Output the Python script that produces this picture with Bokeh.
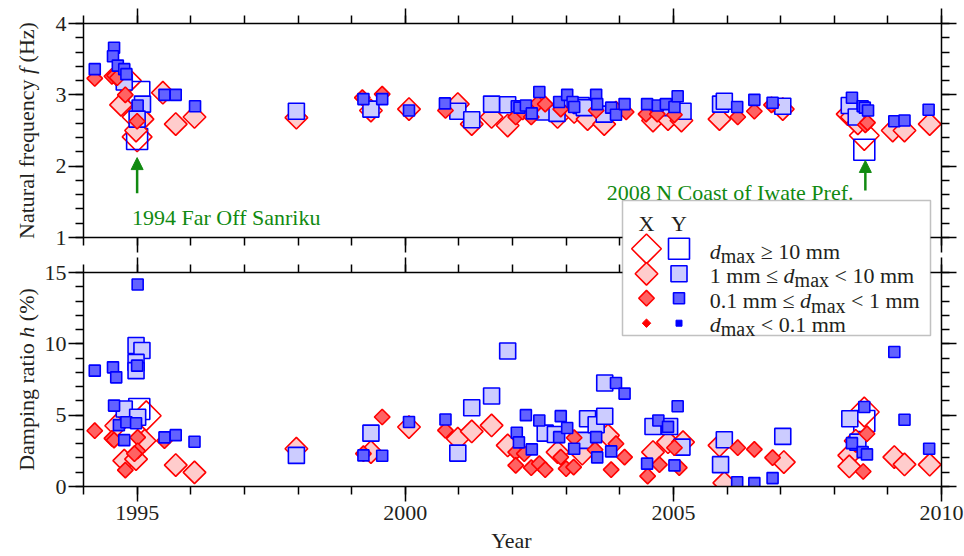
import math
from bokeh.plotting import figure
from bokeh.models import (LinearAxis, Range1d, SingleIntervalTicker, Label,
                          BoxAnnotation, Arrow, NormalHead)
from bokeh.embed import file_html
from bokeh.resources import INLINE

# ---------------- data ----------------
# class codes: 0 = dmax >= 10 mm, 1 = 1-10 mm, 2 = 0.1-1 mm, 3 = < 0.1 mm
# Natural frequency, X direction (diamonds)
fx_year = [1994.21, 1994.53, 1994.58, 1994.63, 1994.80, 1994.78, 1994.70, 1995.10, 1995.00, 1995.00,
           1994.98, 1995.00, 1995.48, 1995.72, 1996.07, 1997.97, 1999.20, 1999.36, 1999.57, 2000.07,
           2000.75, 2000.98, 2001.24, 2001.61, 2001.91, 2002.06, 2002.19, 2002.35, 2002.47, 2002.61,
           2002.84, 2002.90, 2003.15, 2003.40, 2003.56, 2003.71, 2003.93, 2004.12, 2004.49, 2004.62,
           2004.70, 2004.90, 2005.02, 2005.15, 2005.86, 2006.20, 2006.51, 2006.83, 2007.04, 2008.25,
           2008.33, 2008.44, 2008.58, 2008.62, 2008.56, 2009.09, 2009.31, 2009.78]
fx_val = [3.23, 3.26, 3.27, 3.24, 3.20, 3.00, 2.86, 2.66, 2.69, 2.63,
          2.50, 2.41, 3.03, 2.59, 2.69, 2.68, 2.96, 2.78, 3.01, 2.80,
          2.78, 2.87, 2.59, 2.69, 2.57, 2.69, 2.76, 2.69, 2.88, 2.87,
          2.69, 2.80, 2.76, 2.66, 2.78, 2.59, 2.80, 2.76, 2.73, 2.64,
          2.73, 2.66, 2.72, 2.64, 2.66, 2.69, 2.77, 2.86, 2.80, 2.73,
          2.69, 2.60, 2.58, 2.61, 2.43, 2.50, 2.50, 2.59]
fx_cls = [2, 2, 2, 2, 0, 2, 1, 1, 0, 2,
          1, 0, 1, 1, 1, 1, 2, 1, 2, 1,
          2, 1, 1, 1, 1, 2, 2, 2, 2, 2,
          1, 2, 1, 1, 2, 1, 2, 2, 2, 1,
          2, 1, 2, 1, 1, 2, 2, 2, 1, 1,
          1, 1, 2, 2, 0, 1, 1, 1]

# Natural frequency, Y direction (squares)
fy_year = [1994.21, 1994.57, 1994.55, 1994.64, 1994.76, 1994.80, 1994.76, 1995.04, 1995.10, 1995.01,
           1995.00, 1995.00, 1995.51, 1995.72, 1996.08, 1997.97, 1999.22, 1999.36, 1999.57, 2000.07,
           2000.74, 2000.98, 2001.24, 2001.61, 2001.91, 2002.08, 2002.13, 2002.25, 2002.36, 2002.50,
           2002.59, 2002.83, 2002.87, 2003.02, 2003.12, 2003.15, 2003.28, 2003.34, 2003.56, 2003.58,
           2003.71, 2003.84, 2003.93, 2004.09, 2004.51, 2004.71, 2004.86, 2004.90, 2005.02, 2005.08,
           2005.18, 2005.88, 2005.95, 2006.19, 2006.51, 2006.85, 2007.04, 2008.28, 2008.33, 2008.41,
           2008.53, 2008.57, 2008.63, 2008.56, 2009.12, 2009.31, 2009.76]
fy_val = [3.36, 3.66, 3.54, 3.41, 3.36, 3.29, 3.18, 3.04, 2.87, 2.85,
          2.66, 2.38, 3.00, 3.00, 2.84, 2.77, 2.94, 2.80, 2.94, 2.78,
          2.88, 2.77, 2.65, 2.87, 2.86, 2.84, 2.82, 2.85, 2.74, 3.04,
          2.76, 2.74, 2.90, 3.00, 2.90, 2.83, 2.85, 2.82, 3.00, 2.87,
          2.73, 2.82, 2.72, 2.87, 2.87, 2.85, 2.87, 2.82, 2.83, 2.98,
          2.77, 2.87, 2.91, 2.83, 2.93, 2.89, 2.84, 2.85, 2.96, 2.69,
          2.84, 2.82, 2.78, 2.23, 2.63, 2.64, 2.79]
fy_cls = [2, 2, 2, 2, 2, 2, 1, 0, 1, 2,
          1, 0, 2, 2, 2, 1, 2, 1, 2, 2,
          2, 1, 1, 1, 1, 2, 2, 2, 2, 2,
          1, 1, 2, 2, 2, 2, 1, 1, 2, 2,
          1, 2, 2, 2, 2, 2, 2, 1, 2, 2,
          1, 1, 1, 2, 2, 2, 1, 1, 2, 1,
          2, 2, 2, 0, 2, 2, 2]

# Damping ratio, X direction (diamonds)
hx_year = [1994.21, 1994.53, 1994.57, 1994.61, 1995.17, 1995.01, 1995.14, 1995.01, 1994.95, 1994.76,
           1994.98, 1994.78, 1995.51, 1995.72, 1996.07, 1997.97, 1999.22, 1999.36, 1999.57, 2000.07,
           2000.75, 2000.98, 2001.24, 2001.61, 2001.91, 2002.06, 2002.06, 2002.22, 2002.35, 2002.50,
           2002.61, 2002.84, 2002.90, 2003.00, 2003.14, 2003.15, 2003.30, 2003.54, 2003.78, 2003.93,
           2004.09, 2003.84, 2004.62, 2004.74, 2004.52, 2004.90, 2005.02, 2005.18, 2005.11, 2005.86,
           2005.95, 2006.20, 2006.51, 2006.85, 2007.06, 2008.56, 2008.61, 2008.28, 2008.28, 2008.40,
           2008.54, 2009.12, 2009.31, 2009.78]
hx_val = [3.91, 3.37, 3.25, 4.26, 4.96, 3.44, 3.21, 2.50, 2.30, 1.81,
          1.92, 1.15, 3.21, 1.50, 0.99, 2.65, 2.30, 2.41, 4.87, 4.17,
          3.93, 3.35, 3.86, 4.28, 2.88, 2.41, 1.48, 2.30, 1.32, 1.60,
          1.18, 2.41, 2.06, 1.25, 1.36, 3.42, 2.30, 2.58, 3.58, 3.00,
          2.06, 1.18, 2.41, 1.53, 0.73, 3.11, 2.72, 3.11, 1.32, 2.88,
          0.25, 2.72, 2.60, 2.02, 1.71, 5.22, 3.70, 2.18, 1.41, 3.20,
          1.05, 2.06, 1.55, 1.53]
hx_cls = [2, 2, 2, 1, 0, 2, 1, 2, 2, 1,
          1, 2, 2, 1, 1, 1, 2, 1, 2, 1,
          2, 1, 1, 1, 1, 2, 2, 2, 2, 2,
          2, 1, 2, 2, 2, 2, 1, 2, 1, 2,
          2, 2, 1, 2, 2, 1, 2, 1, 2, 1,
          1, 2, 2, 2, 1, 0, 2, 1, 1, 1,
          2, 1, 1, 1]

# Damping ratio, Y direction (squares)
hy_year = [1995.01, 1994.98, 1995.09, 1994.98, 1994.98, 1995.00, 1994.21, 1994.55, 1994.61, 1994.57,
           1994.76, 1995.04, 1995.01, 1994.66, 1994.80, 1994.98, 1994.76, 1995.51, 1995.72, 1996.07,
           1997.97, 1999.22, 1999.36, 1999.57, 2000.07, 2000.75, 2000.98, 2001.24, 2001.61, 2001.91,
           2002.08, 2002.12, 2002.25, 2002.36, 2002.50, 2002.61, 2002.80, 2002.87, 2002.90, 2003.02,
           2003.15, 2003.34, 2003.40, 2003.56, 2003.72, 2003.56, 2003.58, 2003.84, 2003.72, 2003.93,
           2004.09, 2004.51, 2004.62, 2004.72, 2004.90, 2004.93, 2005.02, 2005.08, 2005.16, 2005.95,
           2005.88, 2006.19, 2006.51, 2006.85, 2007.04, 2008.29, 2008.56, 2008.56, 2008.33, 2008.44,
           2008.53, 2008.61, 2009.12, 2009.31, 2009.77]
hy_val = [14.16, 9.88, 9.53, 8.70, 8.12, 8.47, 8.12, 8.35, 7.65, 5.67,
          5.43, 5.43, 4.85, 4.30, 4.50, 4.43, 3.25, 3.44, 3.60, 3.14,
          2.18, 2.18, 3.74, 2.16, 4.52, 4.70, 2.34, 5.52, 6.34, 9.50,
          3.77, 3.09, 5.00, 2.60, 4.63, 3.74, 3.65, 3.46, 4.93, 4.10,
          2.65, 3.23, 4.75, 4.33, 4.92, 3.46, 2.04, 2.46, 7.25, 7.25,
          6.51, 1.60, 4.21, 4.63, 4.18, 4.21, 1.48, 5.62, 2.76, 3.28,
          1.53, 0.30, 0.24, 0.59, 3.51, 4.75, 4.59, 5.57, 3.04, 3.11,
          2.41, 2.25, 9.43, 4.68, 2.65]
hy_cls = [2, 1, 1, 1, 1, 2, 2, 2, 2, 2,
          1, 0, 1, 2, 2, 2, 2, 2, 2, 2,
          1, 2, 1, 2, 2, 2, 1, 1, 1, 1,
          2, 2, 2, 2, 2, 1, 1, 2, 2, 2,
          2, 1, 1, 1, 1, 2, 2, 2, 1, 2,
          2, 2, 1, 2, 2, 1, 2, 2, 1, 1,
          1, 2, 2, 2, 1, 1, 0, 2, 2, 1,
          2, 2, 2, 2, 2]

class_labels = [
    [("d", "i"), ("max", "s"), (" \u2265 10 mm", "n")],
    [("1 mm \u2264 ", "n"), ("d", "i"), ("max", "s"), (" < 10 mm", "n")],
    [("0.1 mm \u2264 ", "n"), ("d", "i"), ("max", "s"), (" < 1 mm", "n")],
    [("d", "i"), ("max", "s"), (" < 0.1 mm", "n")],
]
event_names = ["1994 Far Off Sanriku", "2008 N Coast of Iwate Pref."]
event_years = [1995.0, 2008.58]

# ---------------- layout ----------------
W, H = 964, 556
# pixel geometry of the two panels inside the page
PX_L, PX_R = 83, 941          # years 1994 .. 2010
PY_F4, PY_F1 = 23, 237        # f = 4 .. 1
PY_H15, PY_H0 = 272, 486      # h = 15 .. 0
X0, X1 = 1994, 2010
KX = (PX_R - PX_L) / (X1 - X0)
KF = (PY_F1 - PY_F4) / 3.0
KH = (PY_H0 - PY_H15) / 15.0
# the frame fills the whole page, every axis sits at a fixed location inside it
XS, XE = X0 - PX_L / KX, X1 + (W - PX_R) / KX
HS, HE = -(H - PY_H0) / KH, PY_H0 / KH
FS, FE = 1 - (H - PY_F1) / KF, 4 + PY_F4 / KF

FONT = "Liberation Serif"
TXT = "#231f20"
GREEN = "#118a11"


def dx(px):
    return XS + px * (XE - XS) / W


def dh(py):
    return HE - py * (HE - HS) / H


p = figure(width=W, height=H, x_range=Range1d(XS, XE), y_range=Range1d(HS, HE),
           output_backend="svg", toolbar_location=None,
           x_axis_location=None, y_axis_location=None,
           min_border_left=0, min_border_right=0, min_border_top=0, min_border_bottom=0)
p.extra_y_ranges = {"f": Range1d(FS, FE)}
p.outline_line_color = None
p.background_fill_color = "white"
p.border_fill_color = "white"
for g in p.grid:
    g.visible = False


def mk_axis(interval, labels, standoff=2, **kw):
    ax = LinearAxis(ticker=SingleIntervalTicker(interval=interval, num_minor_ticks=5), **kw)
    ax.axis_line_width = 1.5
    ax.axis_line_color = "black"
    ax.major_tick_line_width = 1.5
    ax.minor_tick_line_width = 1.5
    ax.major_tick_line_color = "black"
    ax.minor_tick_line_color = "black"
    ax.major_tick_in = 0
    ax.major_tick_out = 15
    ax.minor_tick_in = 0
    ax.minor_tick_out = 8
    ax.major_label_text_font = FONT
    ax.major_label_text_font_size = "22px"
    ax.major_label_standoff = standoff
    ax.major_label_text_color = TXT if labels else None
    return ax


# white mask below the damping panel so marks are cut at h = 0
p.add_layout(BoxAnnotation(left=XS, right=XE, top=0, bottom=HS, fill_color="white",
                           fill_alpha=1.0, line_color=None, level="glyph"))

# frequency panel box
p.add_layout(mk_axis(5, False, y_range_name="f", fixed_location=4, bounds=(X0, X1)), "above")
p.add_layout(mk_axis(5, False, y_range_name="f", fixed_location=1, bounds=(X0, X1)), "below")
p.add_layout(mk_axis(1, True, y_range_name="f", fixed_location=X0, bounds=(1, 4)), "left")
p.add_layout(mk_axis(1, False, y_range_name="f", fixed_location=X1, bounds=(1, 4)), "right")
# damping panel box
p.add_layout(mk_axis(5, False, fixed_location=15, bounds=(X0, X1)), "above")
p.add_layout(mk_axis(5, True, standoff=4, fixed_location=0, bounds=(X0, X1)), "below")
p.add_layout(mk_axis(5, True, fixed_location=X0, bounds=(0, 15)), "left")
p.add_layout(mk_axis(5, False, fixed_location=X1, bounds=(0, 15)), "right")

# marker styles per class
SIZES = [21, 16, 11, 6]
X_FILL = [None, "#ffcccc", "#ff6262", "#ff0000"]
Y_FILL = [None, "#ccccff", "#6262ff", "#0000ff"]
RED, BLUE = "#ff0000", "#0000ff"


def draw(xs, ys, cls, k, diamond, rng=None, level="glyph"):
    sx = [x for x, c in zip(xs, cls) if c == k]
    sy = [y for y, c in zip(ys, cls) if c == k]
    if not sx:
        return
    fill = X_FILL[k] if diamond else Y_FILL[k]
    kw = dict(marker="square", size=SIZES[k], line_color=RED if diamond else BLUE,
              line_width=1.6 if k < 3 else 1.0, level=level)
    if diamond:
        kw["angle"] = math.pi / 4
    if fill is None:
        kw["fill_alpha"] = 0
    else:
        kw["fill_color"] = fill
    if rng:
        kw["y_range_name"] = rng
    p.scatter(sx, sy, **kw)


for k in range(4):
    draw(fx_year, fx_val, fx_cls, k, True, "f")
    draw(fy_year, fy_val, fy_cls, k, False, "f")
    draw(hx_year, hx_val, hx_cls, k, True)
    draw(hy_year, hy_val, hy_cls, k, False)

# ---------------- text helpers ----------------
CW = {' ': 250, '.': 250, 'm': 778, 'a': 444, 'x': 500, 'd': 500, '<': 564, '\u2265': 549,
      '\u2264': 549, 'N': 722, 't': 278, 'u': 500, 'r': 333, 'l': 278, 'f': 333, 'e': 444,
      'q': 500, 'n': 500, 'c': 444, 'y': 500, '(': 333, ')': 333, 'H': 722, 'z': 444,
      'D': 722, 'p': 500, 'i': 278, 'g': 500, 'o': 500, '%': 833, 'h': 500, 'X': 722, 'Y': 722}
CW_IT = {'f': 278, 'h': 500, 'd': 500}


def tw(s, size, italic=False):
    w = 0
    for c in s:
        if italic and c in CW_IT:
            w += CW_IT[c]
        else:
            w += CW.get(c, 500)
    return w * size / 1000.0


def add_run(pieces, px, py, vertical=False, align="left", color=TXT, level="annotation"):
    # pieces: (text, size, italic, baseline shift in px)
    total = sum(tw(t, s, it) for t, s, it, _ in pieces)
    start = {"left": 0.0, "center": -total / 2, "right": -total}[align]
    pos = start
    for t, s, it, sh in pieces:
        w = tw(t, s, it)
        st = t.strip()
        if st:
            lead = tw(t[:len(t) - len(t.lstrip())], s, it)
            if vertical:
                x, y, ang = px + sh, py - (pos + lead), math.pi / 2
            else:
                x, y, ang = px + pos + lead, py + sh, 0
            p.add_layout(Label(x=dx(x), y=dh(y), text=st, angle=ang, text_font=FONT,
                               text_font_size=f"{s}px",
                               text_font_style="italic" if it else "normal",
                               text_color=color, text_align="left",
                               text_baseline="alphabetic", level=level))
        pos += w


# axis titles
add_run([("Natural frequency ", 22, False, 0), ("f", 22, True, 0), (" (Hz)", 22, False, 0)],
        26, 130, vertical=True, align="center")
add_run([("Damping ratio ", 22, False, 0), ("h", 22, True, 0), (" (%)", 22, False, 0)],
        26, 379, vertical=True, align="center")
add_run([("Year", 22, False, 0)], 512, 540, align="center")

# event annotations
p.add_layout(Label(x=dx(131.5), y=dh(217), text=event_names[0], text_font=FONT,
                   text_font_size="22px", text_color=GREEN, text_align="left",
                   text_baseline="alphabetic"))
p.add_layout(Label(x=dx(853), y=dh(191.5), text=event_names[1], text_font=FONT,
                   text_font_size="22px", text_color=GREEN, text_align="right",
                   text_baseline="alphabetic"))
for ev, (f0, f1) in zip(event_years, [(1.62, 2.12), (1.66, 2.08)]):
    p.add_layout(Arrow(end=NormalHead(size=12, fill_color=GREEN, line_color=GREEN, line_width=1),
                       x_start=ev, y_start=f0, x_end=ev, y_end=f1, y_range_name="f",
                       line_color=GREEN, line_width=2.5))

# ---------------- legend ----------------
p.add_layout(BoxAnnotation(left=dx(622), right=dx(930), top=dh(200), bottom=dh(335),
                           fill_color="white", fill_alpha=1.0, line_color="#333333",
                           line_width=1.5, level="annotation"))
add_run([("X", 22, False, 0)], 646, 223, align="center", level="overlay")
add_run([("Y", 22, False, 0)], 678.5, 223, align="center", level="overlay")
row_y = [248.3, 273.3, 297.7, 322.7]
row_base = [250.7, 274.5, 300.0, 323.5]
for k in range(4):
    draw([dx(646)], [dh(row_y[k])], [k], k, True, level="overlay")
    draw([dx(678.5)], [dh(row_y[k])], [k], k, False, level="overlay")
    pieces = []
    for t, st in class_labels[k]:
        if st == "n":
            pieces.append((t, 22, False, 0))
        elif st == "i":
            pieces.append((t, 22, True, 0))
        else:
            pieces.append((t, 20, False, 5))
    add_run(pieces, 709.3, row_base[k], level="overlay")

open("out.html", "w").write(file_html(p, INLINE))
